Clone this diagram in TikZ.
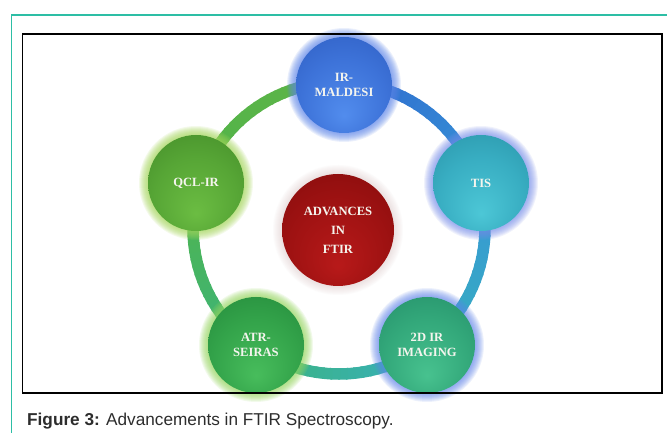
\documentclass[tikz,border=0pt]{standalone}
\usepackage{fontspec}
\setmainfont{Liberation Serif}
\newfontfamily\capfont{Liberation Sans}
\usetikzlibrary{calc}

% ring colours
\definecolor{rBlueA}{RGB}{45,100,205}
\definecolor{rBlueB}{RGB}{55,150,215}
\definecolor{rTeal}{RGB}{55,175,190}
\definecolor{rTealGreen}{RGB}{60,180,125}
\definecolor{rGreen}{RGB}{80,180,75}
\definecolor{rGreenB}{RGB}{95,180,70}
% frame and text colours
\definecolor{frameteal}{RGB}{45,190,165}
\definecolor{labtext}{RGB}{245,245,238}
\definecolor{captext}{RGB}{45,45,45}
% glow colours
\definecolor{glowBlue}{RGB}{95,135,235}
\definecolor{glowLav}{RGB}{120,140,235}
\definecolor{glowGreen}{RGB}{150,215,95}
\definecolor{glowLime}{RGB}{165,215,90}
\definecolor{glowRed}{RGB}{215,190,190}

% glossy sphere shadings, lit from below
\pgfdeclareradialshading{shIRM}{\pgfpoint{0bp}{-16bp}}{%
  rgb(0bp)=(0.32,0.55,0.93); rgb(22bp)=(0.24,0.45,0.85);
  rgb(44bp)=(0.17,0.35,0.74); rgb(50bp)=(0.20,0.40,0.80)}
\pgfdeclareradialshading{shTIS}{\pgfpoint{0bp}{-16bp}}{%
  rgb(0bp)=(0.30,0.78,0.84); rgb(22bp)=(0.22,0.68,0.76);
  rgb(44bp)=(0.15,0.56,0.64); rgb(50bp)=(0.20,0.62,0.70)}
\pgfdeclareradialshading{shTwoD}{\pgfpoint{0bp}{-16bp}}{%
  rgb(0bp)=(0.28,0.76,0.56); rgb(22bp)=(0.20,0.66,0.48);
  rgb(44bp)=(0.13,0.54,0.40); rgb(50bp)=(0.18,0.60,0.45)}
\pgfdeclareradialshading{shATR}{\pgfpoint{0bp}{-16bp}}{%
  rgb(0bp)=(0.28,0.74,0.36); rgb(22bp)=(0.20,0.64,0.29);
  rgb(44bp)=(0.13,0.52,0.22); rgb(50bp)=(0.18,0.58,0.26)}
\pgfdeclareradialshading{shQCL}{\pgfpoint{0bp}{-16bp}}{%
  rgb(0bp)=(0.42,0.74,0.26); rgb(22bp)=(0.34,0.65,0.21);
  rgb(44bp)=(0.25,0.53,0.15); rgb(50bp)=(0.30,0.58,0.18)}
\pgfdeclareradialshading{shCore}{\pgfpoint{0bp}{-16bp}}{%
  rgb(0bp)=(0.72,0.10,0.10); rgb(22bp)=(0.62,0.07,0.07);
  rgb(44bp)=(0.50,0.04,0.04); rgb(50bp)=(0.55,0.06,0.06)}

% one coloured section of the ring, blended from #3 to #4
\newcommand\ringsection[4]{%
  \foreach \k in {0,...,23}{%
    \pgfmathsetmacro\aa{#1+(#2-#1)*\k/24}%
    \pgfmathsetmacro\bb{#1+(#2-#1)*(\k+1.3)/24}%
    \pgfmathsetmacro\pp{100-100*(\k+0.5)/24}%
    \draw[ringline, color=#3!\pp!#4]
      ([shift={(\aa:146)}]C) arc[start angle=\aa, end angle=\bb, radius=146];
  }%
}

% soft halo behind a sphere
\newcommand\halo[4]{% centre, radius, colour, strength
  \foreach \g in {1,...,9}{%
    \fill[#3, opacity=#4] (#1) circle ({#2+10-\g});
  }%
}

\tikzset{
  ringline/.style={line width=11.5pt},
  ball/.style={circle, inner sep=0pt, minimum size=96pt, shade,
    text=labtext, align=center, font=\bfseries\fontsize{12.6}{14.5}\selectfont},
  coreball/.style={ball, minimum size=112pt,
    font=\bfseries\fontsize{12.6}{19}\selectfont}
}

\begin{document}
\begin{tikzpicture}[x=1pt,y=1pt]
\useasboundingbox (0,0) rectangle (667,433);
\fill[white] (0,0) rectangle (667,433);

% outer page rule
\draw[frameteal, line width=1.1pt] (11.7,0) -- (11.7,418) -- (667,418);

% positions
\coordinate (C) at (339,205);
\coordinate (pIRM) at (344,348);
\coordinate (pTIS) at (481,250);
\coordinate (pTwoD) at (427,88);
\coordinate (pATR) at (256,88);
\coordinate (pQCL) at (196,250);
\coordinate (pCore) at (338,203);

% ring
\ringsection{92}{18}{rBlueA}{rBlueB}
\ringsection{18}{-53}{rBlueB}{rTeal}
\ringsection{-53}{-126}{rTeal}{rTealGreen}
\ringsection{-126}{-197}{rTealGreen}{rGreen}
\ringsection{163}{92}{rGreen}{rGreenB}

% halos
\halo{pIRM}{48}{glowBlue}{0.12}
\halo{pTIS}{48}{glowLav}{0.11}
\halo{pTwoD}{48}{glowBlue}{0.11}
\halo{pATR}{48}{glowGreen}{0.12}
\halo{pQCL}{48}{glowLime}{0.12}
\halo{pCore}{56}{glowRed}{0.05}

% spheres
\node[ball, shading=shIRM] (irm) at (pIRM) {IR-\\MALDESI};
\node[ball, shading=shTIS] (tis) at (pTIS) {TIS};
\node[ball, shading=shTwoD] (twod) at (pTwoD) {2D IR\\IMAGING};
\node[ball, shading=shATR] (atr) at (pATR) {ATR-\\SEIRAS};
\node[ball, shading=shQCL] (qcl) at (pQCL) {QCL-IR};
\node[coreball, shading=shCore] (core) at (pCore) {ADVANCES\\IN\\FTIR};

% figure frame
\draw[black, line width=1.2pt] (22.5,40) rectangle (662,399);

% caption
\node[anchor=base west, inner sep=0pt, text=captext,
  font=\capfont\fontsize{17.2}{20}\selectfont] (cap) at (27,7)
  {\textbf{Figure 3:} Advancements in FTIR Spectroscopy.};
\end{tikzpicture}
\end{document}
